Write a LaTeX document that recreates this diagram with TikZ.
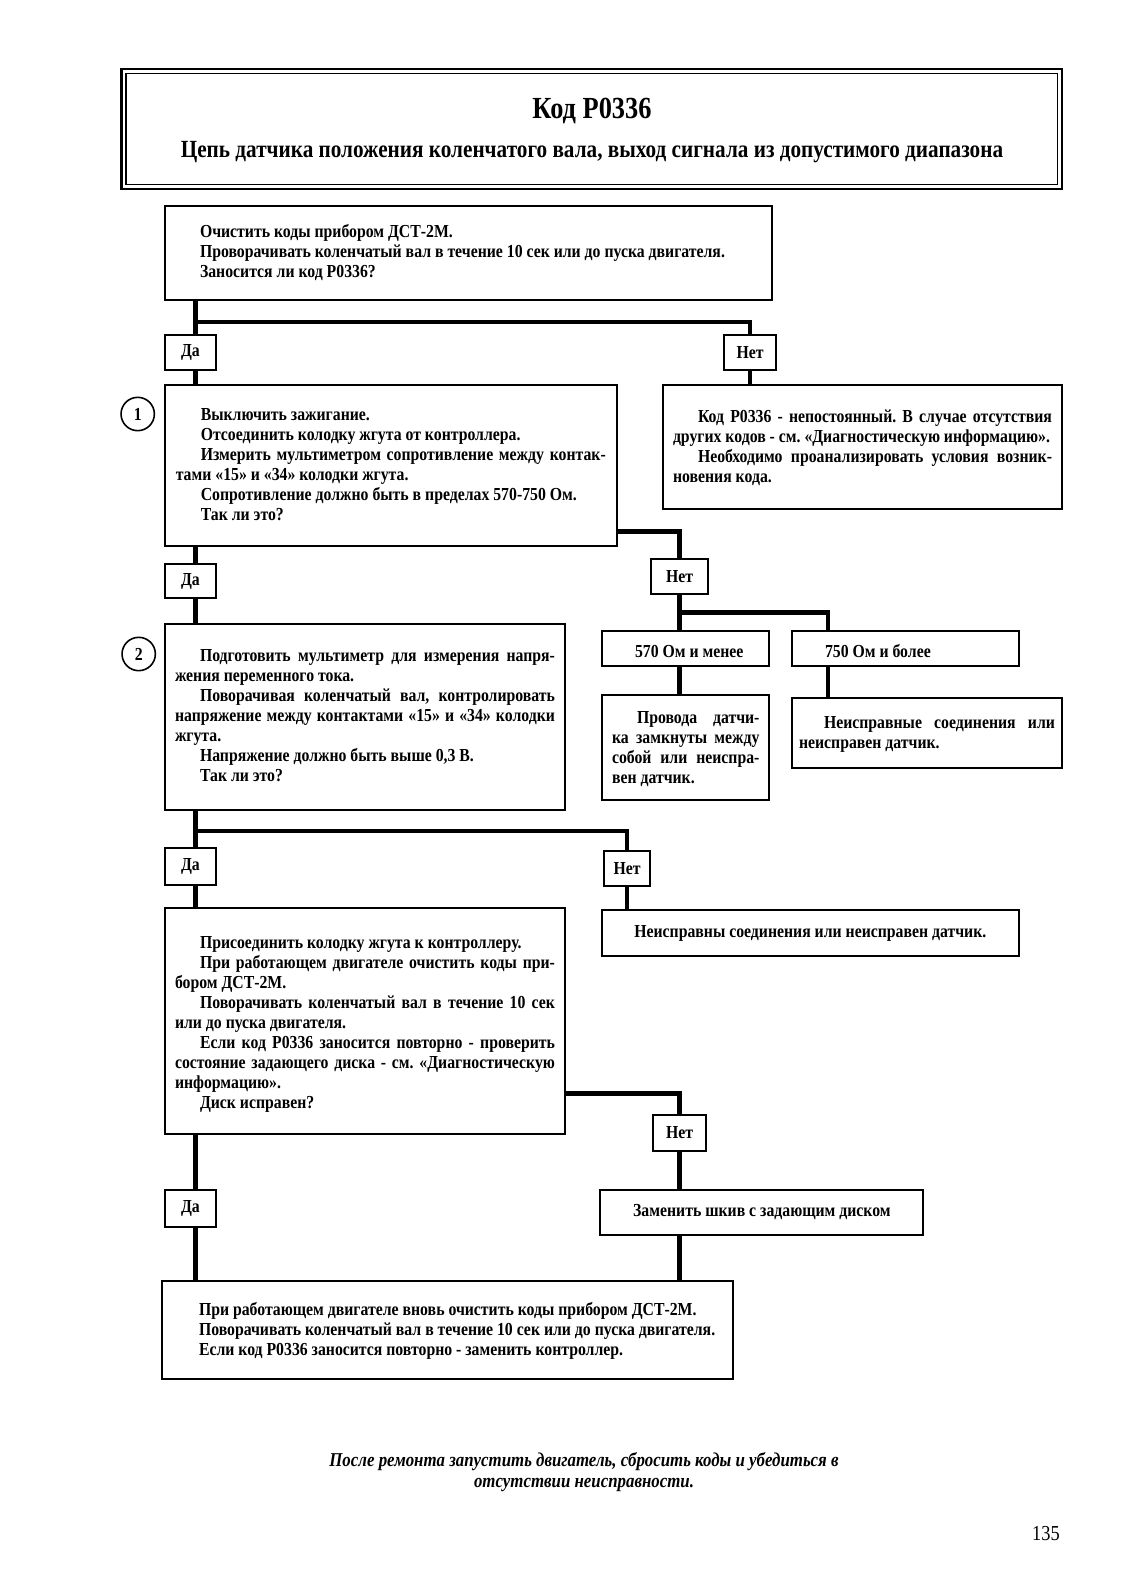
\documentclass[tikz,border=0pt]{standalone}
\usepackage{fontspec}
\setmainfont{Liberation Serif}[FakeStretch=0.86]
\frenchspacing
\tolerance=9999 \pretolerance=-1 \hyphenpenalty=10000 \exhyphenpenalty=10000
\newlength\myind \setlength\myind{18.75pt}
\newcommand\pp{\par\noindent\hspace*{\myind}}
\newcommand\tail[1]{\par\kern#1pt}
\newcommand\bodyfont{\fontsize{13.75}{15}\selectfont\bfseries}
\tikzset{
  box/.style={draw, line width=1.5pt, anchor=north west, inner ysep=0pt, outer sep=0pt, align=justify, font=\bodyfont},
  cbox/.style={draw, line width=1.5pt, anchor=north west, inner sep=0pt, outer sep=0pt, align=center, font=\bodyfont},
  lab/.style={draw, line width=1.5pt, inner sep=0pt, outer sep=0pt, font=\bodyfont},
  conn/.style={line width=3.4pt, line join=miter},
  circ/.style={draw, circle, line width=1.2pt, minimum size=25pt, inner sep=0pt, font=\bodyfont}
}
\begin{document}
\begin{tikzpicture}[x=0.75pt, y=-0.75pt]
\useasboundingbox (0,0) rectangle (1132,1588);
% title
\node[draw, line width=1.8pt, anchor=north west, outer sep=0pt, minimum width=705.4pt, minimum height=90pt] (frame) at (121.5,69) {};
\draw[line width=1pt] ([xshift=3.4pt,yshift=-3.4pt]frame.north west) rectangle ([xshift=-3.4pt,yshift=3.4pt]frame.south east);
\node[font=\fontsize{23}{27}\selectfont\bfseries, anchor=base, inner sep=0pt] (title) at (592,118) {Код P0336};
\node[font=\fontsize{18.5}{22}\selectfont\bfseries, anchor=base, inner sep=0pt] (sub) at (592,157) {Цепь датчика положения коленчатого вала, выход сигнала из допустимого диапазона};
% boxes
\node[box, minimum width=454.9pt, minimum height=70.9pt, text width=439.9pt, inner xsep=7.5pt] (A) at (165,205.5)
 {\pp Очистить коды прибором ДСТ-2М.\pp Проворачивать коленчатый вал в течение 10 сек или до пуска двигателя.\pp Заносится ли код P0336?\tail{6}};
\node[box, minimum width=338.7pt, minimum height=120.75pt, text width=322.5pt, inner xsep=8.1pt] (B1) at (165,385)
 {\pp Выключить зажигание.\pp Отсоединить колодку жгута от контроллера.\pp Измерить мультиметром сопротивление между контак-\linebreak тами «15» и «34» колодки жгута.\pp Сопротивление должно быть в пределах 570-750 Ом.\pp Так ли это?\tail{7.5}};
\node[box, minimum width=299.25pt, minimum height=93pt, text width=284.25pt, inner xsep=7.5pt] (R) at (663,385)
 {\pp Код P0336 - непостоянный. В случае отсутствия\linebreak других кодов - см. «Диагностическую информацию».\pp Необходимо проанализировать условия возник-\linebreak новения кода.\tail{3.75}};
\node[box, minimum width=300pt, minimum height=139.5pt, text width=285pt, inner xsep=7.5pt] (B2) at (165,624)
 {\pp Подготовить мультиметр для измерения напря-\linebreak жения переменного тока.\pp Поворачивая коленчатый вал, контролировать\linebreak напряжение между контактами «15» и «34» колодки\linebreak жгута.\pp Напряжение должно быть выше 0,3 В.\pp Так ли это?\tail{7.5}};
\node[box, minimum width=125.6pt, minimum height=26.25pt, text width=113.6pt, inner xsep=6pt] (s570) at (602,631)
 {\pp 570 Ом и менее\tail{2}};
\node[box, minimum width=170pt, minimum height=26.25pt, text width=158pt, inner xsep=6pt] (s750) at (792,631)
 {\pp 750 Ом и более\tail{2}};
\node[box, minimum width=125.6pt, minimum height=79.1pt, text width=110.6pt, inner xsep=7.5pt] (prov) at (602,694.5)
 {\pp Провода датчи-\linebreak ка замкнуты между\linebreak собой или неиспра-\linebreak вен датчик.\tail{3.75}};
\node[box, minimum width=202.5pt, minimum height=52.5pt, text width=192pt, inner xsep=5.25pt] (n1) at (792,697.6)
 {\pp Неисправные соединения или\linebreak неисправен датчик.\tail{3.75}};
\node[box, minimum width=300pt, minimum height=169.5pt, text width=285pt, inner xsep=7.5pt] (B3) at (165,908)
 {\pp Присоединить колодку жгута к контроллеру.\pp При работающем двигателе очистить коды при-\linebreak бором ДСТ-2М.\pp Поворачивать коленчатый вал в течение 10 сек\linebreak или до пуска двигателя.\pp Если код P0336 заносится повторно - проверить\linebreak состояние задающего диска - см. «Диагностическую\linebreak информацию».\pp Диск исправен?\tail{1.5}};
\node[cbox, minimum width=312.5pt, minimum height=34.5pt] (n2) at (602,910) {Неисправны соединения или неисправен датчик.};
\node[cbox, minimum width=242.25pt, minimum height=33.75pt] (rep) at (600.4,1190) {Заменить шкив с задающим диском};
\node[box, minimum width=428.25pt, minimum height=73.5pt, text width=410.25pt, inner xsep=9pt] (fin) at (162,1281)
 {\pp При работающем двигателе вновь очистить коды прибором ДСТ-2М.\pp Поворачивать коленчатый вал в течение 10 сек или до пуска двигателя.\pp Если код P0336 заносится повторно - заменить контроллер.\tail{3.75}};
% labels
\node[lab, minimum width=38.25pt, minimum height=26.6pt] (da1) at (190.5,352.75) {Да};
\node[lab, minimum width=39pt, minimum height=26.6pt] (net1) at (750,352.75) {Нет};
\node[lab, minimum width=38.25pt, minimum height=25.5pt] (da2) at (190.5,581) {Да};
\node[lab, minimum width=42.75pt, minimum height=26.25pt] (net2) at (679.5,576.5) {Нет};
\node[lab, minimum width=38.25pt, minimum height=27.4pt] (da3) at (190.5,866.75) {Да};
\node[lab, minimum width=35pt, minimum height=26.6pt] (net3) at (627,868.25) {Нет};
\node[lab, minimum width=39.75pt, minimum height=27pt] (net4) at (679.5,1133) {Нет};
\node[lab, minimum width=38.25pt, minimum height=27.75pt] (da4) at (190.5,1208.5) {Да};
% circles
\node[circ] (c1) at (137.7,414) {1};
\node[circ] (c2) at (138.7,654) {2};
% connectors
\coordinate (trunk) at (195.5,0);
\coordinate (j1) at (195.5,322);
\coordinate (j2) at (616.6,531.5);
\coordinate (j3) at (679.5,612.6);
\coordinate (x750) at (828,0);
\coordinate (j4) at (195.5,831);
\coordinate (j5) at (565,1093.5);
\draw[conn] (A.south -| trunk) -- (da1.north -| trunk);
\draw[conn] (j1) -| (net1.north);
\draw[conn] (da1.south -| trunk) -- (B1.north -| trunk);
\draw[conn] (net1.south) -- (R.north -| net1);
\draw[conn] (B1.south -| trunk) -- (da2.north -| trunk);
\draw[conn] (da2.south -| trunk) -- (B2.north -| trunk);
\draw[conn] (j2) -| (net2.north);
\draw[conn] (net2.south) -- (s570.north -| net2);
\draw[conn] (j3) -| (s750.north -| x750);
\draw[conn] (s570.south -| net2) -- (prov.north -| net2);
\draw[conn] (s750.south -| x750) -- (n1.north -| x750);
\draw[conn] (B2.south -| trunk) -- (da3.north -| trunk);
\draw[conn] (j4) -| (net3.north);
\draw[conn] (da3.south -| trunk) -- (B3.north -| trunk);
\draw[conn] (net3.south) -- (n2.north -| net3);
\draw[conn] (j5) -| (net4.north);
\draw[conn] (net4.south) -- (rep.north -| net4);
\draw[conn] (rep.south -| net4) -- (fin.north -| net4);
\draw[conn] (B3.south -| trunk) -- (da4.north -| trunk);
\draw[conn] (da4.south -| trunk) -- (fin.north -| trunk);
% footer
\node[font=\fontsize{14.7}{15.19}\selectfont\bfseries\itshape, align=center, inner sep=0pt] (foot) at (584,1472) {После ремонта запустить двигатель, сбросить коды и убедиться в\\отсутствии неисправности.};
\node[font=\fontsize{16}{19}\selectfont, anchor=base east, inner sep=0pt] (page) at (1060,1540) {135};
\end{tikzpicture}
\end{document}
